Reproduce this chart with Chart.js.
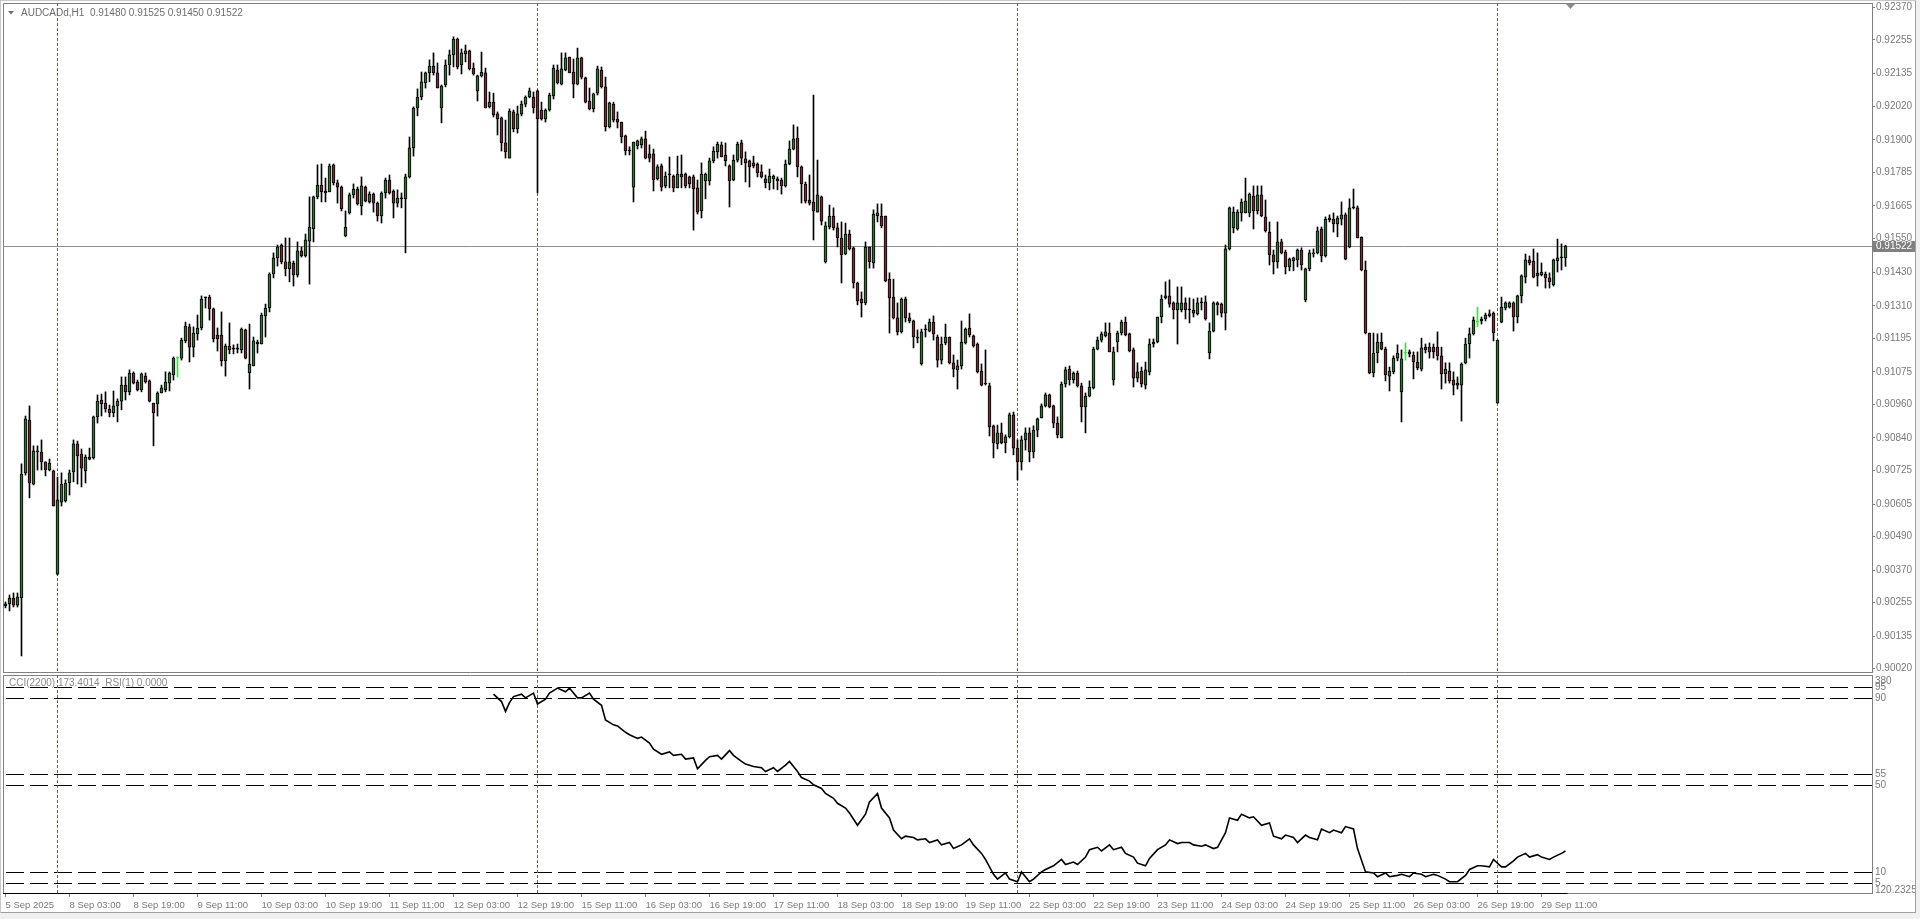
<!DOCTYPE html>
<html><head><meta charset="utf-8">
<script src="https://cdn.jsdelivr.net/npm/chart.js@4.4.1/dist/chart.umd.min.js"></script>
<style>
html,body{margin:0;padding:0;background:#fff;width:1920px;height:919px;overflow:hidden;}
#c1{position:absolute;left:0;top:0;}
#c2{position:absolute;left:0;top:674px;}
.ln{position:absolute;background:#a0a0a0;}
#bot{position:absolute;left:0;top:913px;width:1920px;height:6px;background:#f0f0f0;}
#rgt{position:absolute;left:1916px;top:0;width:4px;height:919px;background:#f0f0f0;}
</style></head><body>
<canvas id="c1" width="1920" height="674"></canvas>
<canvas id="c2" width="1920" height="245"></canvas>
<div id="bot"></div><div id="rgt"></div>
<div class="ln" style="left:0;top:912px;width:1916px;height:1px"></div>
<div class="ln" style="left:1915px;top:0;width:1px;height:913px"></div>
<div class="ln" style="left:0;top:0;width:1916px;height:1px;background:#c8c8c8"></div>
<div class="ln" style="left:0;top:0;width:1px;height:913px;background:#c8c8c8"></div>
<script>
// ---- AUDCADd H1 candles, bar 0 = 5 Sep 2025 11:00 ----
const open = [
0.90243,0.90250,0.90271,0.90246,0.90271,0.90716,0.90904,0.90676,0.90790,0.90790,
0.90755,0.90726,0.90723,0.90356,0.90612,0.90616,0.90680,0.90719,0.90819,0.90783,
0.90723,0.90765,0.90769,0.90915,0.90975,0.90964,0.90943,0.90929,0.90954,0.90971,
0.91028,0.91004,0.91071,0.91039,0.91011,0.91060,0.91043,0.90964,0.90961,0.91000,
0.91011,0.91035,0.91064,0.91124,0.91124,0.91185,0.91235,0.91163,0.91210,0.91231,
0.91338,0.91341,0.91299,0.91206,0.91206,0.91114,0.91167,0.91156,0.91156,0.91153,
0.91224,0.91071,0.91096,0.91174,0.91174,0.91274,0.91302,0.91423,0.91480,0.91526,
0.91466,0.91441,0.91462,0.91420,0.91505,0.91487,0.91540,0.91583,0.91697,0.91739,
0.91711,0.91715,0.91811,0.91747,0.91732,0.91558,0.91640,0.91704,0.91725,0.91665,
0.91732,0.91679,0.91707,0.91675,0.91629,0.91711,0.91757,0.91718,0.91675,0.91690,
0.91690,0.91768,0.91871,0.92013,0.92052,0.92102,0.92138,0.92162,0.92138,0.92013,
0.92095,0.92166,0.92202,0.92258,0.92166,0.92205,0.92216,0.92155,0.92074,0.92127,
0.92138,0.92017,0.92034,0.91992,0.91978,0.91889,0.91835,0.91999,0.91939,0.91992,
0.92027,0.92052,0.92052,0.92074,0.92006,0.91974,0.92006,0.92056,0.92148,0.92098,
0.92148,0.92194,0.92141,0.92098,0.92191,0.92120,0.92038,0.92010,0.92066,0.92148,
0.92088,0.91946,0.92027,0.91974,0.91963,0.91914,0.91860,0.91732,0.91878,0.91882,
0.91903,0.91850,0.91850,0.91761,0.91807,0.91736,0.91775,0.91771,0.91729,0.91778,
0.91778,0.91768,0.91768,0.91729,0.91647,0.91754,0.91754,0.91825,0.91857,0.91882,
0.91846,0.91807,0.91757,0.91828,0.91889,0.91832,0.91825,0.91818,0.91814,0.91786,
0.91761,0.91747,0.91761,0.91761,0.91757,0.91736,0.91814,0.91867,0.91906,0.91804,
0.91743,0.91686,0.91679,0.91643,0.91697,0.91466,0.91590,0.91629,0.91587,0.91551,
0.91494,0.91565,0.91516,0.91391,0.91334,0.91320,0.91519,0.91462,0.91629,0.91629,
0.91629,0.91405,0.91341,0.91267,0.91217,0.91334,0.91267,0.91256,0.91199,0.91103,
0.91224,0.91220,0.91252,0.91199,0.91117,0.91178,0.91199,0.91107,0.91082,0.91096,
0.91178,0.91231,0.91203,0.91174,0.91078,0.91035,0.91025,0.90883,0.90819,0.90858,
0.90822,0.90844,0.90922,0.90804,0.90755,0.90833,0.90858,0.90790,0.90868,0.90911,
0.90954,0.90993,0.90954,0.90893,0.90840,0.91032,0.91085,0.91046,0.91071,0.91025,
0.90950,0.90989,0.91018,0.91156,0.91188,0.91203,0.91213,0.91046,0.91181,0.91213,
0.91252,0.91210,0.91153,0.91053,0.91078,0.91028,0.91075,0.91174,0.91181,0.91270,
0.91338,0.91345,0.91320,0.91295,0.91295,0.91320,0.91295,0.91295,0.91281,0.91320,
0.91324,0.91142,0.91220,0.91320,0.91316,0.91284,0.91512,0.91587,0.91583,0.91640,
0.91640,0.91640,0.91700,0.91647,0.91704,0.91626,0.91572,0.91491,0.91466,0.91537,
0.91501,0.91448,0.91469,0.91473,0.91508,0.91331,0.91441,0.91494,0.91498,0.91583,
0.91487,0.91615,0.91618,0.91601,0.91618,0.91633,0.91519,0.91658,0.91658,0.91554,
0.91437,0.91213,0.91071,0.91142,0.91181,0.91156,0.91060,0.91075,0.91124,0.91004,
0.91142,0.91146,0.91135,0.91110,0.91085,0.91163,0.91163,0.91163,0.91163,0.91132,
0.91068,0.91078,0.91046,0.91035,0.91028,0.91107,0.91174,0.91210,0.91252,0.91256,
0.91263,0.91274,0.91284,0.90964,0.91252,0.91302,0.91305,0.91320,0.91270,0.91345,
0.91412,0.91473,0.91469,0.91426,0.91420,0.91423,0.91409,0.91384,0.91469,0.91480,
0.91480];
const high = [
0.90257,0.90282,0.90289,0.90289,0.90748,0.90918,0.90954,0.90812,0.90812,0.90833,
0.90755,0.90765,0.90726,0.90701,0.90716,0.90691,0.90726,0.90833,0.90829,0.90801,
0.90780,0.90804,0.90918,0.90993,0.90996,0.91004,0.90957,0.91007,0.90979,0.91057,
0.91057,0.91082,0.91075,0.91046,0.91071,0.91071,0.91046,0.90964,0.91004,0.91028,
0.91075,0.91075,0.91128,0.91128,0.91195,0.91252,0.91245,0.91235,0.91277,0.91345,
0.91341,0.91348,0.91302,0.91231,0.91288,0.91174,0.91249,0.91171,0.91174,0.91231,
0.91227,0.91245,0.91199,0.91188,0.91284,0.91316,0.91427,0.91498,0.91526,0.91530,
0.91551,0.91551,0.91469,0.91537,0.91519,0.91565,0.91697,0.91700,0.91811,0.91814,
0.91764,0.91814,0.91814,0.91757,0.91736,0.91647,0.91711,0.91743,0.91732,0.91768,
0.91736,0.91715,0.91711,0.91679,0.91715,0.91764,0.91775,0.91722,0.91722,0.91711,
0.91778,0.91910,0.92017,0.92081,0.92141,0.92141,0.92184,0.92209,0.92173,0.92095,
0.92184,0.92219,0.92266,0.92262,0.92223,0.92237,0.92219,0.92173,0.92130,0.92212,
0.92155,0.92070,0.92066,0.91999,0.91981,0.91970,0.92010,0.92006,0.92020,0.92038,
0.92056,0.92084,0.92070,0.92077,0.92034,0.92010,0.92066,0.92166,0.92166,0.92209,
0.92209,0.92194,0.92187,0.92226,0.92194,0.92123,0.92084,0.92066,0.92162,0.92159,
0.92123,0.92034,0.92034,0.91999,0.91963,0.91917,0.91875,0.91892,0.91899,0.91910,
0.91931,0.91882,0.91867,0.91811,0.91814,0.91786,0.91839,0.91775,0.91842,0.91846,
0.91782,0.91771,0.91775,0.91757,0.91818,0.91782,0.91835,0.91875,0.91892,0.91892,
0.91889,0.91811,0.91846,0.91892,0.91899,0.91857,0.91828,0.91842,0.91818,0.91811,
0.91775,0.91796,0.91775,0.91768,0.91764,0.91828,0.91896,0.91953,0.91946,0.91807,
0.91750,0.91775,0.92059,0.91828,0.91700,0.91608,0.91668,0.91658,0.91604,0.91608,
0.91604,0.91579,0.91519,0.91394,0.91359,0.91537,0.91519,0.91651,0.91672,0.91672,
0.91629,0.91427,0.91405,0.91320,0.91338,0.91341,0.91284,0.91259,0.91224,0.91227,
0.91242,0.91263,0.91274,0.91206,0.91199,0.91245,0.91199,0.91135,0.91117,0.91256,
0.91231,0.91281,0.91206,0.91178,0.91103,0.91153,0.91035,0.90886,0.90886,0.90893,
0.90851,0.90929,0.90932,0.90833,0.90847,0.90876,0.90876,0.90883,0.90911,0.90961,
0.91000,0.90996,0.90957,0.90915,0.91039,0.91092,0.91096,0.91075,0.91078,0.91035,
0.91000,0.91043,0.91163,0.91199,0.91217,0.91249,0.91249,0.91163,0.91220,0.91259,
0.91270,0.91213,0.91160,0.91107,0.91092,0.91110,0.91192,0.91192,0.91270,0.91348,
0.91395,0.91402,0.91324,0.91377,0.91377,0.91338,0.91338,0.91334,0.91338,0.91338,
0.91345,0.91249,0.91324,0.91324,0.91320,0.91526,0.91661,0.91661,0.91651,0.91690,
0.91764,0.91711,0.91736,0.91736,0.91736,0.91686,0.91608,0.91508,0.91608,0.91547,
0.91508,0.91480,0.91483,0.91512,0.91516,0.91444,0.91508,0.91512,0.91590,0.91590,
0.91626,0.91633,0.91640,0.91629,0.91679,0.91640,0.91690,0.91725,0.91665,0.91555,
0.91469,0.91213,0.91213,0.91210,0.91213,0.91163,0.91092,0.91132,0.91171,0.91153,
0.91178,0.91153,0.91146,0.91146,0.91195,0.91174,0.91178,0.91174,0.91217,0.91163,
0.91107,0.91107,0.91075,0.91057,0.91107,0.91195,0.91231,0.91270,0.91305,0.91270,
0.91284,0.91295,0.91288,0.91188,0.91341,0.91324,0.91324,0.91324,0.91348,0.91420,
0.91494,0.91487,0.91512,0.91498,0.91462,0.91430,0.91427,0.91476,0.91547,0.91530,
0.91525];
const low = [
0.90236,0.90225,0.90239,0.90239,0.90065,0.90708,0.90627,0.90673,0.90726,0.90726,
0.90705,0.90723,0.90598,0.90353,0.90598,0.90612,0.90637,0.90684,0.90676,0.90666,
0.90680,0.90762,0.90765,0.90893,0.90918,0.90932,0.90915,0.90915,0.90897,0.90940,
0.90975,0.90993,0.91032,0.91007,0.91004,0.91035,0.90968,0.90812,0.90918,0.91000,
0.91004,0.91007,0.91046,0.91057,0.91117,0.91178,0.91110,0.91128,0.91188,0.91224,
0.91302,0.91259,0.91181,0.91149,0.91096,0.91060,0.91139,0.91139,0.91142,0.91142,
0.91121,0.91014,0.91096,0.91142,0.91174,0.91199,0.91288,0.91409,0.91451,0.91459,
0.91416,0.91395,0.91380,0.91412,0.91483,0.91483,0.91387,0.91537,0.91690,0.91679,
0.91679,0.91715,0.91739,0.91675,0.91647,0.91555,0.91636,0.91693,0.91668,0.91633,
0.91679,0.91675,0.91643,0.91611,0.91604,0.91693,0.91707,0.91622,0.91661,0.91658,
0.91498,0.91764,0.91842,0.91985,0.92042,0.92084,0.92106,0.92130,0.92084,0.91960,
0.92088,0.92130,0.92159,0.92152,0.92134,0.92177,0.92148,0.92130,0.92038,0.92123,
0.92013,0.92013,0.91981,0.91917,0.91860,0.91835,0.91835,0.91928,0.91924,0.91985,
0.92017,0.92049,0.91995,0.91711,0.91970,0.91963,0.92002,0.92045,0.92098,0.92095,
0.92145,0.92138,0.92049,0.92095,0.92116,0.92031,0.92006,0.91999,0.92059,0.92084,
0.91931,0.91942,0.91963,0.91942,0.91889,0.91846,0.91846,0.91679,0.91867,0.91871,
0.91832,0.91821,0.91718,0.91757,0.91718,0.91729,0.91729,0.91715,0.91729,0.91729,
0.91729,0.91729,0.91579,0.91636,0.91622,0.91690,0.91739,0.91818,0.91835,0.91839,
0.91807,0.91661,0.91754,0.91821,0.91811,0.91750,0.91732,0.91800,0.91768,0.91764,
0.91729,0.91722,0.91725,0.91722,0.91707,0.91732,0.91811,0.91864,0.91768,0.91675,
0.91675,0.91668,0.91544,0.91643,0.91597,0.91462,0.91583,0.91579,0.91519,0.91391,
0.91491,0.91508,0.91373,0.91313,0.91270,0.91313,0.91444,0.91444,0.91608,0.91587,
0.91395,0.91213,0.91263,0.91206,0.91213,0.91252,0.91249,0.91160,0.91178,0.91099,
0.91199,0.91217,0.91188,0.91092,0.91103,0.91171,0.91103,0.91057,0.91014,0.91085,
0.91174,0.91199,0.91163,0.91071,0.91025,0.91028,0.90847,0.90769,0.90801,0.90819,
0.90787,0.90840,0.90780,0.90691,0.90726,0.90797,0.90755,0.90769,0.90844,0.90911,
0.90950,0.90947,0.90876,0.90840,0.90840,0.91021,0.91028,0.91035,0.91021,0.90897,
0.90858,0.90986,0.91014,0.91153,0.91181,0.91199,0.91146,0.91028,0.91146,0.91206,
0.91203,0.91146,0.91021,0.91039,0.91021,0.91014,0.91064,0.91163,0.91178,0.91249,
0.91334,0.91305,0.91263,0.91174,0.91288,0.91263,0.91249,0.91270,0.91277,0.91295,
0.91259,0.91121,0.91217,0.91277,0.91270,0.91224,0.91508,0.91569,0.91579,0.91611,
0.91640,0.91626,0.91583,0.91636,0.91626,0.91572,0.91455,0.91423,0.91444,0.91494,
0.91423,0.91434,0.91434,0.91448,0.91437,0.91324,0.91434,0.91483,0.91494,0.91466,
0.91483,0.91608,0.91572,0.91555,0.91597,0.91473,0.91516,0.91654,0.91551,0.91434,
0.91210,0.91068,0.91057,0.91107,0.91153,0.91043,0.91007,0.91068,0.91114,0.90897,
0.91117,0.91128,0.91050,0.91082,0.91078,0.91142,0.91124,0.91124,0.91117,0.91014,
0.91035,0.91035,0.90993,0.91014,0.90900,0.91103,0.91124,0.91206,0.91235,0.91245,
0.91256,0.91270,0.91185,0.90964,0.91249,0.91295,0.91302,0.91220,0.91249,0.91320,
0.91391,0.91455,0.91409,0.91380,0.91416,0.91373,0.91373,0.91380,0.91430,0.91437,
0.91450];
const close = [
0.90250,0.90271,0.90246,0.90275,0.90712,0.90908,0.90680,0.90794,0.90794,0.90755,
0.90726,0.90751,0.90598,0.90620,0.90676,0.90680,0.90716,0.90819,0.90776,0.90733,
0.90772,0.90772,0.90915,0.90971,0.90961,0.90943,0.90929,0.90954,0.90971,0.91028,
0.91004,0.91071,0.91035,0.91011,0.91068,0.91039,0.90971,0.90929,0.91000,0.91018,
0.91039,0.91071,0.91124,0.91124,0.91188,0.91238,0.91163,0.91213,0.91231,0.91334,
0.91338,0.91299,0.91192,0.91192,0.91114,0.91167,0.91153,0.91156,0.91156,0.91227,
0.91124,0.91103,0.91185,0.91181,0.91277,0.91302,0.91423,0.91480,0.91519,0.91466,
0.91441,0.91466,0.91420,0.91505,0.91487,0.91544,0.91590,0.91697,0.91739,0.91715,
0.91718,0.91807,0.91747,0.91732,0.91654,0.91590,0.91704,0.91725,0.91672,0.91736,
0.91682,0.91707,0.91675,0.91629,0.91711,0.91757,0.91711,0.91675,0.91693,0.91690,
0.91768,0.91871,0.92013,0.92052,0.92106,0.92138,0.92162,0.92138,0.92084,0.92091,
0.92166,0.92202,0.92258,0.92159,0.92209,0.92216,0.92152,0.92134,0.92127,0.92141,
0.92013,0.92034,0.91988,0.91974,0.91889,0.91857,0.92002,0.91939,0.91992,0.92027,
0.92052,0.92074,0.92013,0.91974,0.91974,0.92006,0.92059,0.92155,0.92102,0.92152,
0.92191,0.92138,0.92098,0.92191,0.92123,0.92034,0.92010,0.92063,0.92152,0.92088,
0.91946,0.92031,0.91970,0.91963,0.91910,0.91860,0.91860,0.91892,0.91896,0.91903,
0.91835,0.91835,0.91757,0.91804,0.91732,0.91771,0.91775,0.91729,0.91778,0.91768,
0.91736,0.91743,0.91725,0.91643,0.91778,0.91778,0.91825,0.91860,0.91885,0.91839,
0.91825,0.91754,0.91828,0.91885,0.91835,0.91818,0.91804,0.91807,0.91782,0.91768,
0.91747,0.91771,0.91771,0.91754,0.91736,0.91814,0.91867,0.91903,0.91804,0.91743,
0.91682,0.91675,0.91647,0.91704,0.91611,0.91594,0.91629,0.91587,0.91551,0.91491,
0.91565,0.91512,0.91391,0.91327,0.91320,0.91519,0.91466,0.91636,0.91640,0.91594,
0.91398,0.91338,0.91267,0.91217,0.91334,0.91267,0.91256,0.91199,0.91195,0.91217,
0.91224,0.91252,0.91210,0.91117,0.91174,0.91199,0.91107,0.91085,0.91096,0.91181,
0.91227,0.91206,0.91167,0.91075,0.91028,0.91032,0.90879,0.90822,0.90858,0.90822,
0.90844,0.90922,0.90804,0.90755,0.90833,0.90858,0.90790,0.90868,0.90908,0.90954,
0.90993,0.90950,0.90893,0.90851,0.91032,0.91082,0.91046,0.91071,0.91025,0.90950,
0.90989,0.91021,0.91156,0.91188,0.91210,0.91217,0.91146,0.91146,0.91213,0.91252,
0.91206,0.91149,0.91053,0.91075,0.91032,0.91082,0.91174,0.91181,0.91270,0.91334,
0.91345,0.91316,0.91295,0.91320,0.91320,0.91295,0.91295,0.91284,0.91320,0.91320,
0.91263,0.91220,0.91320,0.91313,0.91284,0.91512,0.91658,0.91643,0.91643,0.91679,
0.91682,0.91707,0.91647,0.91704,0.91629,0.91576,0.91491,0.91466,0.91537,0.91498,
0.91448,0.91476,0.91480,0.91508,0.91455,0.91441,0.91498,0.91498,0.91576,0.91487,
0.91618,0.91622,0.91601,0.91622,0.91633,0.91476,0.91658,0.91658,0.91551,0.91437,
0.91213,0.91071,0.91142,0.91181,0.91156,0.91064,0.91078,0.91124,0.91142,0.91121,
0.91142,0.91139,0.91110,0.91089,0.91160,0.91153,0.91146,0.91146,0.91132,0.91068,
0.91085,0.91043,0.91028,0.91028,0.91103,0.91174,0.91210,0.91259,0.91252,0.91263,
0.91277,0.91281,0.91213,0.91188,0.91305,0.91320,0.91320,0.91270,0.91345,0.91416,
0.91473,0.91462,0.91412,0.91416,0.91430,0.91409,0.91395,0.91473,0.91480,0.91480,
0.91522];
const limeBars = [43, 350, 368];          // bars drawn in the bright "bar up" colour
const separatorBars = [13, 133, 253, 373]; // Monday 00:00 period separators
const lastPrice = 0.91522;

// price axis
const priceTicks = [0.92370,0.92255,0.92135,0.92020,0.91900,0.91785,0.91665,0.91550,0.91430,0.91310,0.91195,0.91075,0.90960,0.90840,0.90725,0.90605,0.90490,0.90370,0.90255,0.90135,0.90020];
// time axis
const xTickBars = [0,16,32,48,64,80,96,112,128,144,160,176,192,208,224,240,256,272,288,304,320,336,352,368,384];
const xTickLabels = ['5 Sep 2025','8 Sep 03:00','8 Sep 19:00','9 Sep 11:00','10 Sep 03:00','10 Sep 19:00','11 Sep 11:00','12 Sep 03:00','12 Sep 19:00','15 Sep 11:00','16 Sep 03:00','16 Sep 19:00','17 Sep 11:00','18 Sep 03:00','18 Sep 19:00','19 Sep 11:00','22 Sep 03:00','22 Sep 19:00','23 Sep 11:00','24 Sep 03:00','24 Sep 19:00','25 Sep 11:00','26 Sep 03:00','26 Sep 19:00','29 Sep 11:00'];

// indicator sub-window
const indBars = [
122,124,125,126,127,129,130,132,133,135,
136,138,140,141,143,144,146,147,149,150,
152,153,155,156,158,159,161,162,164,166,
167,169,170,172,173,175,176,178,179,181,
182,184,185,187,189,190,192,193,195,196,
198,199,201,202,204,205,207,208,210,211,
213,215,216,218,219,221,222,224,225,227,
228,230,231,233,234,236,237,239,241,242,
244,245,247,248,250,251,253,254,256,257,
259,260,262,264,265,267,268,270,271,273,
274,276,277,279,280,282,283,285,286,288,
290,291,293,294,296,297,299,300,302,303,
305,306,308,309,311,312,314,316,317,319,
320,322,323,325,326,328,329,331,332,334,
335,337,338,340,342,343,345,346,348,349,
351,352,354,355,357,358,360,361,363,365,
366,368,369,371,372,374,375,377,378,380,
381,383,384,386,387,389,390];
const indValues = [
91.7,88.3,83.8,87.8,90.6,91.7,90.0,92.2,87.2,89.4,
92.2,94.5,92.8,94.5,90.0,90.0,92.2,89.4,86.6,79.9,
77.6,77.1,74.2,73.1,71.4,72.0,69.2,66.4,64.1,65.2,
63.6,64.1,61.9,62.4,57.4,61.3,63.0,63.6,61.9,65.8,
63.6,60.8,59.6,58.5,57.9,56.2,57.9,56.2,59.1,60.8,
56.2,53.4,51.8,50.1,48.4,46.1,43.9,41.6,39.4,37.1,
31.5,36.6,42.2,46.1,39.4,34.9,29.3,25.3,26.5,25.9,
24.8,25.3,23.6,24.8,22.5,23.6,20.8,22.5,25.3,22.5,
18.6,15.8,9.0,6.8,9.6,6.8,5.6,10.1,5.6,6.8,
10.1,11.2,12.9,15.8,13.5,14.6,13.5,16.9,20.3,21.4,
19.7,22.5,20.3,21.4,18.6,16.9,14.1,12.9,16.3,20.3,
22.5,24.8,23.1,23.6,23.6,22.5,21.9,22.5,20.8,21.4,
28.1,34.9,33.8,36.6,34.9,35.4,31.5,32.6,26.5,25.3,
27.0,25.9,23.6,27.0,25.9,24.8,29.8,28.1,29.3,28.1,
30.9,29.8,20.8,10.1,9.6,7.9,9.6,7.9,8.5,9.0,
7.9,9.6,9.0,7.9,9.0,8.5,6.8,5.6,5.6,8.5,
11.2,12.9,12.9,12.4,15.8,12.4,12.4,15.2,16.9,18.6,
16.9,18.0,16.9,15.8,16.9,18.6,19.7];
const levelValues = [95, 90, 55, 50, 10, 5];
const subTickValues = [97.5, 95, 90, 55, 50, 10, 5, 1.8];
const subTickLabels = ['380','95','90','55','50','10','5','120.2325'];

const headerText = 'AUDCADd,H1  0.91480 0.91525 0.91450 0.91522';
const subHeaderText = 'CCI(2200) 173.4014  RSI(1) 0.0000';

// ---------- styling ----------
const FONT = '"Liberation Sans", Arial, sans-serif';
const UP = '#3a6b3a', DN = '#6b3038', LIME = '#39e639';
const TXT = '#7a7a7a', FRAME = '#808080', SEP = '#6c6650';
const X_MIN = -0.625, X_MAX = -0.625 + 1869 / 4;

const idx = open.map((_, i) => i);
const bodyBg = idx.map(i => limeBars.includes(i) ? LIME : close[i] > open[i] ? UP : close[i] < open[i] ? DN : '#000');
const bodyBd = idx.map(i => limeBars.includes(i) ? LIME : '#000');
const wickBg = idx.map(i => limeBars.includes(i) ? LIME : '#000');

function noPadY(s) { s.width = 48; s.paddingTop = 0; s.paddingBottom = 0; }
function noPadX(s) { s.height = 26; s.paddingLeft = 0; s.paddingRight = 0; }

function drawSeparators(chart) {
  const {ctx, chartArea: a, scales: {x}} = chart;
  ctx.save();
  ctx.strokeStyle = SEP; ctx.lineWidth = 1; ctx.setLineDash([3, 2]);
  separatorBars.forEach(b => {
    const px = Math.floor(x.getPixelForValue(b)) + 0.5;
    ctx.beginPath(); ctx.moveTo(px, a.top); ctx.lineTo(px, a.bottom); ctx.stroke();
  });
  ctx.restore();
}

const mainDeco = {
  id: 'mainDeco',
  beforeDatasetsDraw(chart) {
    const {ctx, chartArea: a, scales: {y}} = chart;
    ctx.save();
    ctx.strokeStyle = FRAME; ctx.lineWidth = 1;
    ctx.beginPath();
    ctx.moveTo(a.left + 0.5, a.bottom + 0.5); ctx.lineTo(a.left + 0.5, a.top + 0.5); ctx.lineTo(a.right, a.top + 0.5);
    ctx.moveTo(a.left, a.bottom + 0.5); ctx.lineTo(a.right, a.bottom + 0.5);
    ctx.stroke();
    // header
    ctx.fillStyle = '#6e6e6e';
    ctx.beginPath(); ctx.moveTo(8, 11); ctx.lineTo(14, 11); ctx.lineTo(11, 14.5); ctx.closePath(); ctx.fill();
    ctx.font = '10px ' + FONT; ctx.textBaseline = 'middle'; ctx.textAlign = 'left';
    ctx.fillText(headerText, 21, 13);
    // last price line
    const py = Math.round(y.getPixelForValue(lastPrice)) + 0.5;
    ctx.strokeStyle = '#8a9296';
    ctx.beginPath(); ctx.moveTo(a.left, py); ctx.lineTo(a.right, py); ctx.stroke();
    ctx.restore();
    drawSeparators(chart);
  },
  afterDraw(chart) {
    const {ctx, chartArea: a, scales: {y}} = chart;
    ctx.save();
    const py = Math.round(y.getPixelForValue(lastPrice));
    ctx.fillStyle = '#808080';
    ctx.fillRect(a.right + 1, py - 5, 42, 11);
    ctx.fillStyle = '#ffffff'; ctx.font = '10px ' + FONT; ctx.textBaseline = 'middle'; ctx.textAlign = 'left';
    ctx.fillText(lastPrice.toFixed(5), a.right + 4, py + 0.5);
    // chart-shift marker
    ctx.fillStyle = '#8c8c8c';
    ctx.beginPath(); ctx.moveTo(1566, 4); ctx.lineTo(1575, 4); ctx.lineTo(1570.5, 9); ctx.closePath(); ctx.fill();
    ctx.restore();
  }
};

new Chart(document.getElementById('c1'), {
  type: 'bar',
  data: {
    datasets: [
      { label: 'body', data: idx.map(i => ({x: i, y: [open[i], close[i]]})), backgroundColor: bodyBg, borderColor: bodyBd,
        borderWidth: 1, borderSkipped: false, barThickness: 3, minBarLength: 1, grouped: false, order: 0 },
      { label: 'wick', data: idx.map(i => ({x: i, y: [low[i], high[i]]})), backgroundColor: wickBg,
        borderWidth: 0, barThickness: 1, grouped: false, order: 1 }
    ]
  },
  options: {
    responsive: false, animation: false, devicePixelRatio: 1,
    layout: {padding: {left: 3, top: 3, right: 0, bottom: 2}},
    plugins: {legend: {display: false}, tooltip: {enabled: false}},
    scales: {
      x: {type: 'linear', min: X_MIN, max: X_MAX, display: false, offset: false},
      y: {
        position: 'right', min: 0.900080, max: 0.923863,
        afterFit: noPadY,
        afterBuildTicks(s) { s.ticks = priceTicks.map(v => ({value: v})); },
        ticks: {autoSkip: false, padding: 1, color: TXT, font: {family: FONT, size: 10}, callback: v => Number(v).toFixed(5)},
        grid: {drawOnChartArea: false, drawTicks: true, tickLength: 3, color: FRAME},
        border: {display: true, color: FRAME}
      }
    }
  },
  plugins: [mainDeco]
});

const subDeco = {
  id: 'subDeco',
  beforeDatasetsDraw(chart) {
    const {ctx, chartArea: a, scales: {y}} = chart;
    ctx.save();
    ctx.strokeStyle = FRAME; ctx.lineWidth = 1;
    ctx.beginPath();
    ctx.moveTo(a.left + 0.5, a.bottom); ctx.lineTo(a.left + 0.5, a.top + 0.5); ctx.lineTo(a.right, a.top + 0.5);
    ctx.stroke();
    ctx.fillStyle = '#8a8a8a'; ctx.font = '10px ' + FONT; ctx.textBaseline = 'middle'; ctx.textAlign = 'left';
    ctx.fillText(subHeaderText, 9, 9.5);
    ctx.strokeStyle = '#000'; ctx.setLineDash([18, 6]);
    levelValues.forEach(v => {
      const py = Math.round(y.getPixelForValue(v)) + 0.5;
      ctx.beginPath(); ctx.moveTo(6, py); ctx.lineTo(a.right, py); ctx.stroke();
    });
    ctx.restore();
    drawSeparators(chart);
  },
  afterDraw(chart) {
    const {ctx, chartArea: a, scales: {x}} = chart;
    ctx.save();
    ctx.strokeStyle = '#000'; ctx.lineWidth = 1;
    ctx.beginPath(); ctx.moveTo(a.left, a.bottom + 0.5); ctx.lineTo(x.getPixelForValue(open.length - 1) + 2, a.bottom + 0.5); ctx.stroke();
    ctx.restore();
  }
};

new Chart(document.getElementById('c2'), {
  type: 'line',
  data: {
    datasets: [{
      label: 'indicator', data: indBars.map((b, k) => ({x: b, y: indValues[k]})),
      borderColor: '#000', borderWidth: 1.6, pointRadius: 0, tension: 0, fill: false
    }]
  },
  options: {
    responsive: false, animation: false, devicePixelRatio: 1,
    layout: {padding: {left: 3, top: 1, right: 0, bottom: 0}},
    plugins: {legend: {display: false}, tooltip: {enabled: false}},
    scales: {
      x: {
        type: 'linear', min: X_MIN, max: X_MAX, offset: false,
        afterFit: noPadX,
        afterBuildTicks(s) { s.ticks = xTickBars.map(v => ({value: v})); },
        ticks: {autoSkip: false, maxRotation: 0, minRotation: 0, align: 'start', padding: 3, color: TXT,
          font: {family: FONT, size: 9.5}, callback: (v, k) => xTickLabels[k]},
        grid: {drawOnChartArea: false, drawTicks: true, tickLength: 4, color: FRAME},
        border: {display: true, color: FRAME}
      },
      y: {
        position: 'right', min: 0.41, max: 100.5,
        afterFit: noPadY,
        afterBuildTicks(s) { s.ticks = subTickValues.map(v => ({value: v})); },
        ticks: {autoSkip: false, padding: 3, color: TXT, font: {family: FONT, size: 10}, callback: (v, k) => subTickLabels[k]},
        grid: {drawOnChartArea: false, drawTicks: false},
        border: {display: true, color: FRAME}
      }
    }
  },
  plugins: [subDeco]
});
</script>
</body></html>
